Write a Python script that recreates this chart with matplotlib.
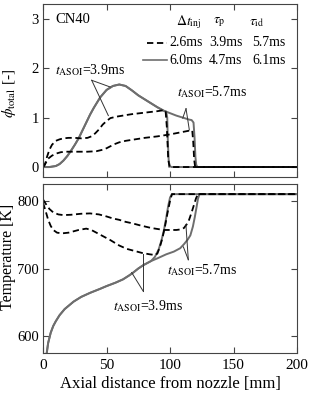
import numpy as np
import matplotlib
matplotlib.use("Agg")
import matplotlib.pyplot as plt

plt.rcParams['font.family'] = ['Liberation Serif', 'DejaVu Serif']
plt.rcParams['mathtext.fontset'] = 'stix'
plt.rcParams['font.size'] = 10
plt.rcParams['xtick.labelsize'] = 11
plt.rcParams['ytick.labelsize'] = 10.5

# phi_total, solid (6.0ms injection), t_ASOI = 3.9ms
x_sol39 = [0, 5, 10, 13, 16, 19, 22, 25, 28, 31, 34, 37, 40, 45, 50, 55, 60, 65, 70, 75, 80, 85, 90, 95, 97,
           97.8, 98.3, 99, 100, 101, 200]
phi_sol39 = [0, 0.0, 0.02, 0.06, 0.13, 0.22, 0.33, 0.45, 0.58, 0.74, 0.9, 1.06, 1.2, 1.41, 1.56, 1.64, 1.67,
             1.64, 1.55, 1.45, 1.37, 1.29, 1.21, 1.14, 1.12, 1.0, 0.5, 0.1, 0.02, 0, 0]
# solid, t_ASOI = 5.7ms
x_sol57 = [0, 5, 10, 13, 16, 19, 22, 25, 28, 31, 34, 37, 40, 45, 50, 55, 60, 65, 70, 75, 80, 85, 90, 95, 100,
           105, 110, 115, 117, 118.5, 119.3, 120, 120.6, 121.5, 200]
phi_sol57 = [0, 0.0, 0.02, 0.06, 0.13, 0.22, 0.33, 0.45, 0.58, 0.74, 0.9, 1.06, 1.2, 1.41, 1.56, 1.64, 1.67,
             1.64, 1.55, 1.45, 1.37, 1.29, 1.21, 1.14, 1.09, 1.04, 1.0, 0.96, 0.95, 0.9, 0.6, 0.2, 0.05, 0, 0]
# dashed (2.6ms injection), t_ASOI = 3.9ms
x_das39 = [0, 1.5, 3, 5, 7, 10, 13, 16, 20, 25, 30, 35, 38, 41, 44, 47, 50, 53, 58, 65, 70, 80, 90, 95, 96.5,
           97.5, 98.5, 99.5, 200]
phi_das39 = [0, 0.05, 0.2, 0.35, 0.45, 0.53, 0.56, 0.58, 0.59, 0.59, 0.58, 0.59, 0.62, 0.68, 0.76, 0.86, 0.93,
             0.99, 1.02, 1.05, 1.07, 1.1, 1.13, 1.15, 1.14, 0.8, 0.2, 0, 0]
# dashed, t_ASOI = 5.7ms
x_das57 = [0, 2, 4, 7, 10, 14, 18, 25, 35, 42, 47, 50, 53, 56, 60, 65, 70, 80, 90, 100, 110, 116, 117.5,
           118.3, 119, 119.8, 200]
phi_das57 = [0, 0.08, 0.17, 0.23, 0.27, 0.3, 0.31, 0.31, 0.31, 0.32, 0.35, 0.38, 0.42, 0.46, 0.5, 0.53, 0.55,
             0.59, 0.62, 0.66, 0.71, 0.74, 0.74, 0.5, 0.15, 0, 0]

# temperature
xt_sol57 = [2.5, 4, 6, 8, 10, 13, 17, 24, 30, 37, 45, 50, 57, 63, 68, 71, 75, 79, 85, 90, 97, 103, 108, 111,
            114, 116, 118, 119.5, 121, 122, 123.2, 200]
T_sol57 = [570, 590, 605, 615, 622, 631, 640, 651, 658, 664, 670, 674, 679, 684, 690, 694, 700, 705, 711, 715,
           721, 725, 730, 736, 743, 749, 762, 776, 792, 803, 810, 810]
xt_sol39 = [2.5, 4, 6, 8, 10, 13, 17, 24, 30, 37, 45, 50, 57, 63, 68, 71, 75, 79, 85, 88, 91, 93, 95, 97,
            98.5, 100, 101.5, 200]
T_sol39 = [570, 590, 605, 615, 622, 631, 640, 651, 658, 664, 670, 674, 679, 684, 690, 694, 700, 705, 711, 717,
           728, 740, 755, 775, 792, 805, 810, 810]
xt_das57 = [0, 2, 5, 8, 12, 16, 22, 30, 37, 44, 50, 55, 60, 65, 70, 76, 85, 95, 100, 105, 109, 111, 113, 115,
            117, 119, 120.5, 122, 200]
T_das57 = [802, 796, 788, 783, 780, 779, 779.5, 781, 781.5, 780, 777, 774, 772, 769, 767, 764, 760, 757, 757,
           757, 758, 760, 765, 772, 783, 795, 804, 810, 810]
xt_das39 = [0, 2, 4, 6, 8, 11, 15, 20, 28, 34, 38, 42, 47, 53, 60, 66, 72, 78, 84, 88, 90, 92, 94, 96, 98,
            100, 101.5, 200]
T_das39 = [797, 785, 772, 763, 757, 753, 752, 753, 757, 759, 757, 753, 748, 742, 734, 729, 726, 723, 721, 720,
           722, 732, 745, 762, 782, 800, 810, 810]

legend_head = [r'$\Delta t_{\rm inj}$', r'$\tau_{\rm p}$', r'$\tau_{\rm id}$']
legend_dash = ['2.6ms', '3.9ms', '5.7ms']
legend_sol = ['6.0ms', '4.7ms', '6.1ms']

gray = '#6e6e6e'
fig = plt.figure(figsize=(3.1, 3.94), dpi=100)
ax1 = fig.add_axes([0.139, 0.551, 0.819, 0.439])
ax2 = fig.add_axes([0.139, 0.104, 0.819, 0.429])

ax1.plot(x_sol57, phi_sol57, color=gray, lw=1.4)
ax1.plot(x_sol39, phi_sol39, color=gray, lw=1.4)
ax1.plot(x_das39, phi_das39, color='black', lw=1.3, ls=(0, (3.5, 2)))
ax1.plot(x_das57, phi_das57, color='black', lw=1.3, ls=(0, (3.5, 2)))

ax2.plot(xt_sol57, T_sol57, color=gray, lw=1.4)
ax2.plot(xt_sol39, T_sol39, color=gray, lw=1.4)
ax2.plot(xt_das57, T_das57, color='black', lw=1.3, ls=(0, (3.5, 2)))
ax2.plot(xt_das39, T_das39, color='black', lw=1.3, ls=(0, (3.5, 2)))

# annotations
lk = dict(color='#333333', lw=0.7)
ax1.text(9.4, 1.96, r'$t_{\rm ASOI}$=3.9ms', va='center', ha='left')
ax1.plot([38.3, 52.8], [1.755, 1.62], **lk)
ax1.plot([38.3, 51.4], [1.755, 1.04], **lk)
ax1.text(105.5, 1.51, r'$t_{\rm ASOI}$=5.7ms', va='center', ha='left')
ax1.plot([112.6, 110], [1.18, 0.99], **lk)
ax1.plot([112.6, 115.2], [1.18, 0.75], **lk)

ax2.text(55, 644, r'$t_{\rm ASOI}$=3.9ms', va='center', ha='left')
ax2.plot([79, 69.8], [666, 694], **lk)
ax2.plot([79, 79], [666, 722], **lk)
ax2.text(97.6, 698, r'$t_{\rm ASOI}$=5.7ms', va='center', ha='left')
ax2.plot([114.4, 110.5], [713, 732], **lk)
ax2.plot([114.4, 112.5], [713, 765], **lk)

# legend table
ax1.text(9.4, 2.98, 'CN40', va='center', ha='left', fontsize=10.5)
for xc, s in zip([114.6, 139, 168.5], legend_head):
    ax1.text(xc, 2.93, s, va='center', ha='center')
ax1.plot([82, 97.6], [2.51, 2.51], color='black', lw=1.3, ls=(0, (3.5, 2)))
ax1.plot([79, 97.6], [2.16, 2.16], color=gray, lw=1.2)
for xc, s1, s2 in zip([112.6, 144, 178], legend_dash, legend_sol):
    ax1.text(xc, 2.51, s1, va='center', ha='center')
    ax1.text(xc, 2.16, s2, va='center', ha='center')

ax1.set_xlim(0, 200)
ax1.set_ylim(-0.2, 3.3)
ax1.set_yticks([0, 1, 2, 3])
ax1.set_xticks([0, 50, 100, 150, 200])
ax1.set_xticklabels([])
ax1.set_ylabel(r'$\phi_{\rm total}$ [-]', fontsize=11)
ax1.yaxis.set_label_coords(-0.1, 0.48)

ax2.set_xlim(0, 200)
ax2.set_ylim(575, 825)
ax2.set_yticks([600, 700, 800])
ax2.set_xticks([0, 50, 100, 150, 200])
ax2.set_xlabel('Axial distance from nozzle [mm]', fontsize=12, labelpad=3)
ax2.set_ylabel('Temperature [K]', fontsize=11.5)
ax2.yaxis.set_label_coords(-0.105, 0.57)

for ax in (ax1, ax2):
    ax.tick_params(direction='in', top=True, right=True, length=4, width=0.8, color='#444444')
    ax.tick_params(axis='y', pad=3)
    ax.tick_params(axis='x', pad=4)
    ax.xaxis.set_minor_locator(matplotlib.ticker.NullLocator())
    for sp in ax.spines.values():
        sp.set_color('#444444')
        sp.set_linewidth(0.8)

fig.savefig('out.png', dpi=100)
